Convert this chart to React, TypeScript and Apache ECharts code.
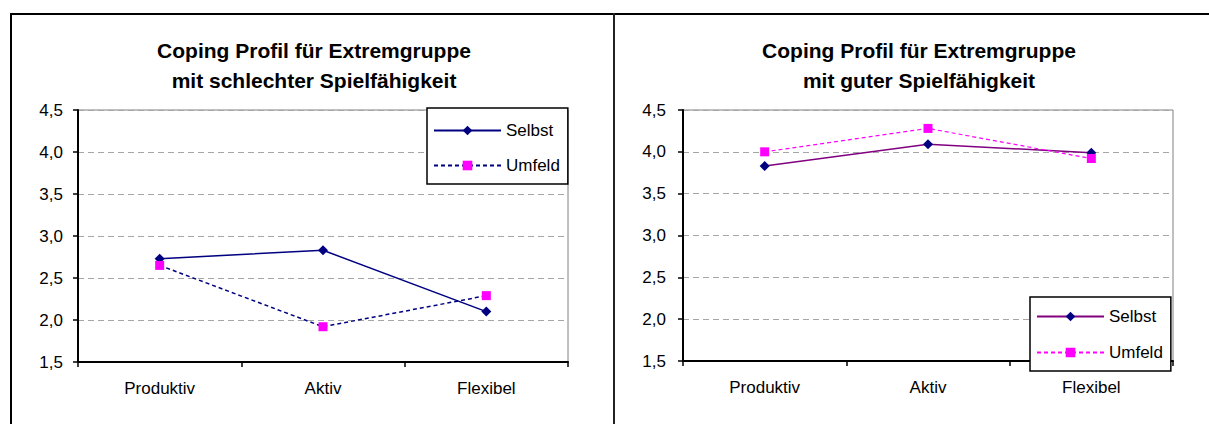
import React, { useEffect, useRef } from 'react';
import * as echarts from 'echarts';

const categories = ['Produktiv', 'Aktiv', 'Flexibel'];
const schlechtSelbst = [2.73, 2.83, 2.1];
const schlechtUmfeld = [2.65, 1.92, 2.29];
const gutSelbst = [3.83, 4.09, 3.99];
const gutUmfeld = [4.0, 4.28, 3.92];
const seriesNames = ['Selbst', 'Umfeld'];
const titleSchlecht = 'Coping Profil für Extremgruppe\nmit schlechter Spielfähigkeit';
const titleGut = 'Coping Profil für Extremgruppe\nmit guter Spielfähigkeit';
const yMin = 1.5;
const yMax = 4.5;
const yStep = 0.5;

const FONT = '"Liberation Sans", Arial, sans-serif';

type P = {
  title: string;
  titleX: number;
  gridLeft: number;
  gridTop: number;
  gridWidth: number;
  gridHeight: number;
  yLabelMargin: number;
  selbst: number[];
  umfeld: number[];
  selbstLine: string;
  umfeldLine: string;
  umfeldWidth: number;
  legendLeft: number;
  legendTop: number;
  legendGap: number;
  legendPadding: number[];
};

function makeOption(p: P) {
  return {
    animation: false,
    graphic: [
      {
        type: 'text',
        x: p.titleX,
        y: 35,
        style: {
          text: p.title,
          fontSize: 21,
          fontWeight: 'bold',
          fontFamily: FONT,
          fill: '#000',
          align: 'center',
          verticalAlign: 'top',
          lineHeight: 30,
        },
      },
    ],
    grid: {
      left: p.gridLeft,
      top: p.gridTop,
      width: p.gridWidth,
      height: p.gridHeight,
      show: true,
      borderColor: '#808080',
      borderWidth: 1,
      backgroundColor: 'transparent',
    },
    xAxis: {
      type: 'category',
      data: categories,
      boundaryGap: true,
      axisLine: { lineStyle: { color: '#000', width: 2 } },
      axisTick: { show: true, length: 5, alignWithLabel: false, interval: 0, lineStyle: { color: '#000', width: 1.5 } },
      axisLabel: { margin: 18, fontSize: 17, color: '#000', fontFamily: FONT, interval: 0 },
      splitLine: { show: false },
    },
    yAxis: {
      type: 'value',
      min: yMin,
      max: yMax,
      interval: yStep,
      axisLine: { show: true, lineStyle: { color: '#000', width: 2 } },
      axisTick: { show: true, length: 5, lineStyle: { color: '#000', width: 1.5 } },
      axisLabel: {
        margin: p.yLabelMargin,
        fontSize: 17,
        color: '#000',
        fontFamily: FONT,
        formatter: (v: number) => v.toFixed(1).replace('.', ','),
      },
      splitLine: { show: true, lineStyle: { color: '#a6a6a6', type: [6, 4], width: 1 } },
    },
    legend: {
      orient: 'vertical',
      left: p.legendLeft,
      top: p.legendTop,
      itemWidth: 67,
      itemHeight: 12,
      itemGap: p.legendGap,
      padding: p.legendPadding,
      borderColor: '#000',
      borderWidth: 1.5,
      borderRadius: 0,
      backgroundColor: '#fff',
      selectedMode: false,
      textStyle: { fontSize: 17, color: '#000', fontFamily: FONT, lineHeight: 12 },
      data: seriesNames,
    },
    series: [
      {
        name: seriesNames[0],
        type: 'line',
        data: p.selbst,
        symbol: 'diamond',
        symbolSize: 10,
        lineStyle: { color: p.selbstLine, width: 1.5, type: 'solid' },
        itemStyle: { color: '#000080' },
      },
      {
        name: seriesNames[1],
        type: 'line',
        data: p.umfeld,
        symbol: 'rect',
        symbolSize: 9,
        lineStyle: { color: p.umfeldLine, width: p.umfeldWidth, type: [4, 3] },
        itemStyle: { color: '#ff00ff' },
      },
    ],
  };
}

function Chart({ left, width, p }: { left: number; width: number; p: P }) {
  const ref = useRef<HTMLDivElement>(null);
  useEffect(() => {
    if (!ref.current) return;
    const chart = echarts.init(ref.current, undefined, { renderer: 'svg' });
    chart.setOption(makeOption(p));
    return () => chart.dispose();
  }, []);
  return <div ref={ref} style={{ position: 'absolute', left, top: 0, width, height: 424 }} />;
}

const leftP: P = {
  title: titleSchlecht,
  titleX: 314,
  gridLeft: 78,
  gridTop: 110,
  gridWidth: 490,
  gridHeight: 252,
  yLabelMargin: 15,
  selbst: schlechtSelbst,
  umfeld: schlechtUmfeld,
  selbstLine: '#000080',
  umfeldLine: '#000080',
  umfeldWidth: 1.5,
  legendLeft: 427,
  legendTop: 108,
  legendGap: 18,
  legendPadding: [14, 8, 10, 6],
};

const rightP: P = {
  title: titleGut,
  titleX: 305,
  gridLeft: 69,
  gridTop: 110,
  gridWidth: 490,
  gridHeight: 251,
  yLabelMargin: 17,
  selbst: gutSelbst,
  umfeld: gutUmfeld,
  selbstLine: '#800080',
  umfeldLine: '#ff00ff',
  umfeldWidth: 1.2,
  legendLeft: 416,
  legendTop: 297,
  legendGap: 19,
  legendPadding: [11, 8, 10, 6],
};

export default function App() {
  return (
    <div style={{ position: 'fixed', left: 0, top: 0, width: 1209, height: 424, background: '#fff', overflow: 'hidden' }}>
      <Chart left={0} width={613} p={leftP} />
      <Chart left={614} width={595} p={rightP} />
      <div style={{ position: 'absolute', left: 10, top: 13, width: 1199, height: 2, background: '#000' }} />
      <div style={{ position: 'absolute', left: 10, top: 13, width: 2, height: 411, background: '#000' }} />
      <div style={{ position: 'absolute', left: 613, top: 13, width: 2, height: 411, background: '#222' }} />
    </div>
  );
}
